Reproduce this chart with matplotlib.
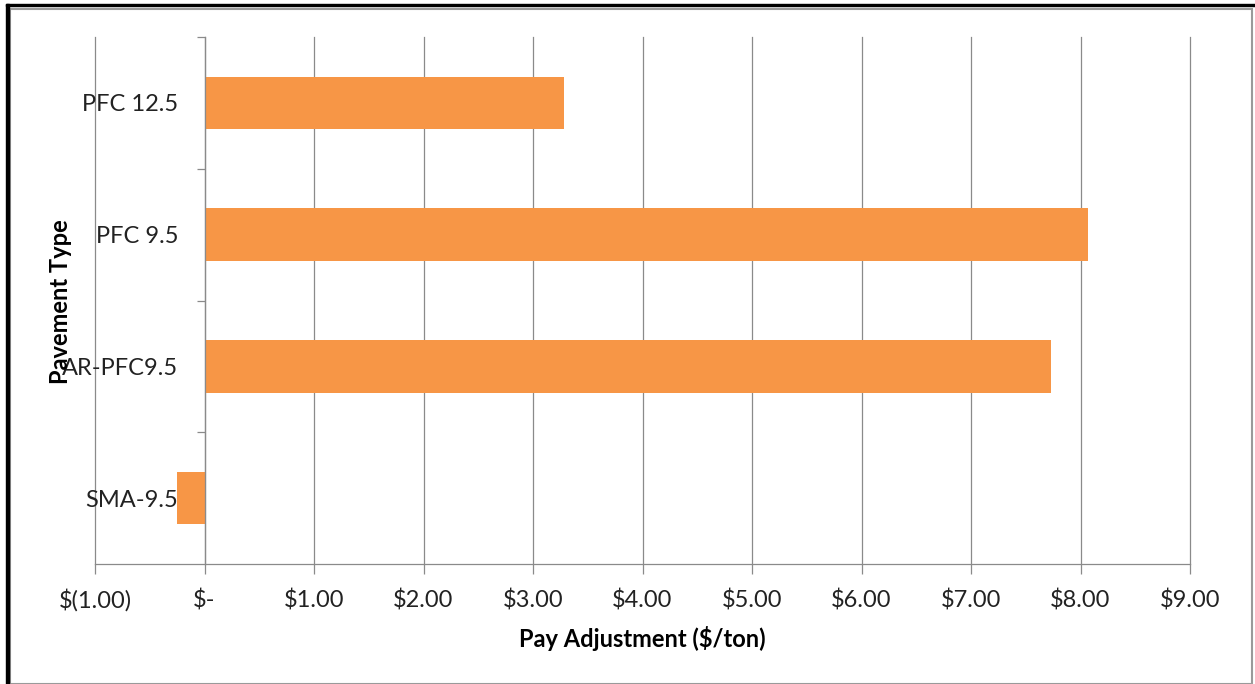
import matplotlib.pyplot as plt
from matplotlib.patches import Rectangle
from matplotlib.ticker import FixedLocator

plt.rcParams['font.family'] = ['Lato', 'DejaVu Sans']

# Dane
kategorie = ["SMA-9.5", "AR-PFC9.5", "PFC 9.5", "PFC 12.5"]
wartosci = [-0.25, 7.73, 8.07, 3.28]
x_ticki = [-1, 0, 1, 2, 3, 4, 5, 6, 7, 8, 9]
x_etykiety = ["$(1.00)", "$-", "$1.00", "$2.00", "$3.00", "$4.00",
              "$5.00", "$6.00", "$7.00", "$8.00", "$9.00"]

W, H = 1255, 684
fig = plt.figure(figsize=(W / 100, H / 100), dpi=100)
ax = fig.add_axes([95 / W, 1 - 564 / H, (1190 - 95) / W, (564 - 37) / H])

szary = "#8a8a8a"
ax.barh(range(len(kategorie)), wartosci, height=0.4, color="#F79646", zorder=3)

ax.set_xlim(-1, 9)
ax.set_ylim(-0.5, len(kategorie) - 0.5)
ax.set_xticks(x_ticki)
ax.set_xticklabels(x_etykiety)
ax.set_yticks(range(len(kategorie)))
ax.set_yticklabels(kategorie)
ax.yaxis.set_minor_locator(FixedLocator([0.5, 1.5, 2.5, 3.5]))

ax.grid(axis="x", color=szary, linewidth=0.9, zorder=0)
# ostatnia linia siatki (9.00) nie moze byc obcieta
for linia in ax.get_xgridlines():
    linia.set_clip_on(False)
for s in ["top", "right"]:
    ax.spines[s].set_visible(False)
ax.spines["left"].set_position(("data", 0))
ax.spines["left"].set_color(szary)
ax.spines["left"].set_linewidth(0.9)
ax.spines["left"].set_zorder(4)
ax.spines["bottom"].set_color(szary)
ax.spines["bottom"].set_linewidth(0.9)

ax.tick_params(axis="x", length=7, width=0.9, color=szary, labelsize=17,
               pad=11, labelcolor="#222222")
ax.tick_params(axis="y", which="major", length=0, labelsize=17, pad=19,
               labelcolor="#222222")
ax.tick_params(axis="y", which="minor", length=6, width=0.9, color=szary)

ax.set_xlabel("Pay Adjustment ($/ton)", fontsize=17, fontweight="bold",
              labelpad=10)
fig.text(60 / W, 1 - 302 / H, "Pavement Type", rotation=90, fontsize=17,
         fontweight="bold", ha="center", va="center")

# Ramka wokół wykresu
fig.patches.append(Rectangle((10 / W, 0 / H), (1252 - 10) / W, (H - 9) / H,
                             transform=fig.transFigure, fill=False,
                             edgecolor="#9a9a9a", linewidth=1.5))
fig.patches.append(Rectangle((6 / W, 1 - 6 / H), (W - 6) / W, 2.5 / H,
                             transform=fig.transFigure, color="black"))
fig.patches.append(Rectangle((6 / W, 0), 2.5 / W, 1 - 4 / H,
                             transform=fig.transFigure, color="black"))

fig.savefig("out.png", dpi=100)
